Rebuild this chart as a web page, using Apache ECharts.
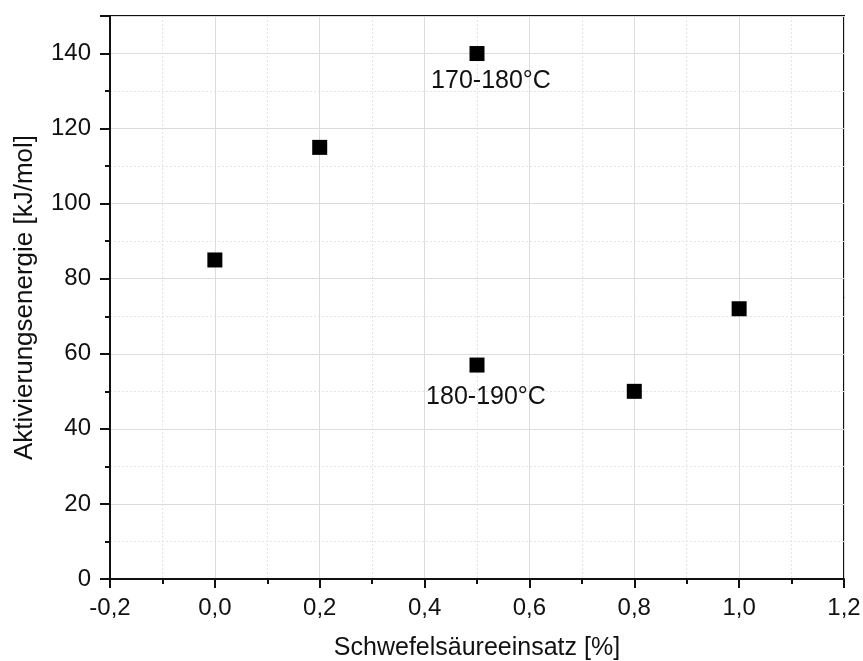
<!DOCTYPE html>
<html>
<head>
<meta charset="utf-8">
<script src="https://cdn.jsdelivr.net/npm/echarts@6/dist/echarts.min.js"></script>
<style>
  html, body { margin: 0; padding: 0; background: #fff; }
  #chart { width: 863px; height: 661px; }
</style>
</head>
<body>
<div id="chart"></div>
<script>
// Sulfuric acid dosage [%] vs. activation energy [kJ/mol]
const acidDosage = [0.0, 0.2, 0.5, 0.5, 0.8, 1.0];
const activationEnergy = [85, 115, 140, 57, 50, 72];
// temperature-range annotations (empty = no label)
const pointNotes = ['', '', '170-180°C', '180-190°C', '', ''];
const noteOffsets = [null, null, [14, 28], [9, 32], null, null];

const FONT = '"Liberation Sans", Arial, sans-serif';

const seriesData = acidDosage.map((x, i) => {
  const item = { value: [x, activationEnergy[i]] };
  if (pointNotes[i]) {
    item.label = {
      show: true,
      formatter: pointNotes[i],
      position: 'inside',
      offset: noteOffsets[i],
      color: '#111',
      opacity: 1,
      fontFamily: FONT,
      fontSize: 25
    };
  }
  return item;
});

const chart = echarts.init(document.getElementById('chart'), null, { renderer: 'canvas' });

const fmtComma = v => (Math.round(v * 10) / 10).toFixed(1).replace('.', ',');

chart.setOption({
  animation: false,
  backgroundColor: '#fff',
  grid: {
    left: 110, right: 19, top: 16, bottom: 82,
    outerBoundsMode: 'none',
    containLabel: false,
    show: true, borderColor: '#111', borderWidth: 2, backgroundColor: 'transparent'
  },
  xAxis: {
    type: 'value',
    min: -0.2, max: 1.2, interval: 0.2,
    name: 'Schwefelsäureeinsatz [%]',
    nameLocation: 'middle',
    nameGap: 57,
    nameTextStyle: { fontFamily: FONT, fontSize: 25, color: '#111' },
    axisLine: { show: true, onZero: false, lineStyle: { color: '#111', width: 2 } },
    axisTick: { show: true, inside: false, length: 9, lineStyle: { color: '#111', width: 2 } },
    minorTick: { show: true, splitNumber: 2, length: 5, lineStyle: { color: '#111', width: 2 } },
    axisLabel: { fontFamily: FONT, fontSize: 24, color: '#111', margin: 17, formatter: fmtComma },
    splitLine: { show: true, lineStyle: { color: '#dcdcdc', width: 1 } },
    minorSplitLine: { show: true, lineStyle: { color: '#e4e4e4', width: 1, type: [2, 2] } }
  },
  yAxis: {
    type: 'value',
    min: 0, max: 150, interval: 20,
    name: 'Aktivierungsenergie [kJ/mol]',
    nameLocation: 'middle',
    nameGap: 72,
    nameTextStyle: { fontFamily: FONT, fontSize: 26, color: '#111' },
    axisLine: { show: true, onZero: false, lineStyle: { color: '#111', width: 2 } },
    axisTick: { show: true, inside: false, length: 10, lineStyle: { color: '#111', width: 2 } },
    minorTick: { show: true, splitNumber: 2, length: 5, lineStyle: { color: '#111', width: 2 } },
    axisLabel: { fontFamily: FONT, fontSize: 24, color: '#111', margin: 19, showMaxLabel: false },
    splitLine: { show: true, lineStyle: { color: '#dcdcdc', width: 1 } },
    minorSplitLine: { show: true, lineStyle: { color: '#e4e4e4', width: 1, type: [2, 2] } }
  },
  series: [{
    type: 'scatter',
    symbol: 'rect',
    symbolSize: 15,
    itemStyle: { color: '#000', opacity: 1 },
    emphasis: { disabled: true },
    data: seriesData
  }]
});
</script>
</body>
</html>
